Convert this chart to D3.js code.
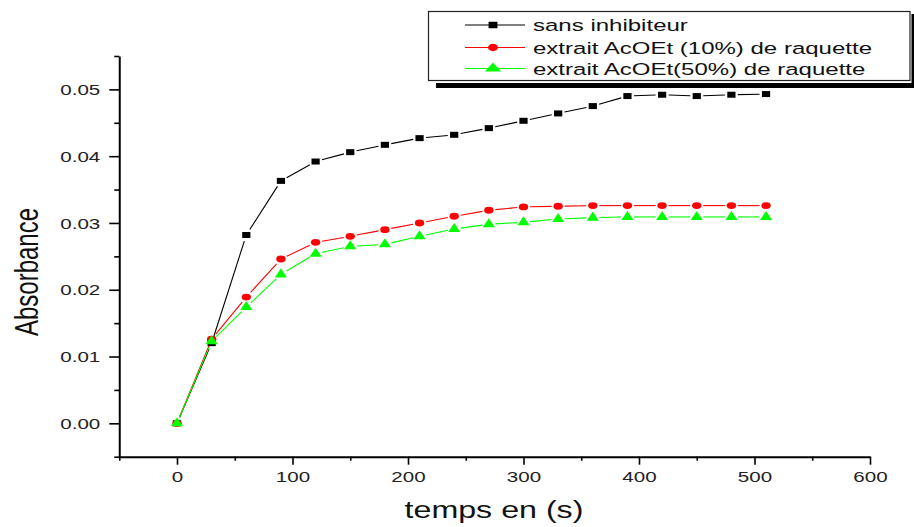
<!DOCTYPE html>
<html>
<head>
<meta charset="utf-8">
<script src="https://cdn.jsdelivr.net/npm/d3@7"></script>
<style>
  body { margin: 0; background: #fff; }
  svg { display: block; font-family: "Liberation Sans", Arial, sans-serif; }
</style>
</head>
<body>
<div id="chart"></div>
<script>
// temps (s) et absorbance
var times = [0, 30, 60, 90, 120, 150, 180, 210, 240, 270, 300, 330, 360, 390, 420, 450, 480, 510];
var sansInhibiteur = [0, 0.0120, 0.0282, 0.0363, 0.0392, 0.0406, 0.0417, 0.0427, 0.0432, 0.0442, 0.0453, 0.0464, 0.0475, 0.0490, 0.0492, 0.0490, 0.0492, 0.0493];
var acoet10 = [0, 0.0126, 0.0189, 0.0246, 0.0271, 0.0280, 0.0290, 0.0300, 0.0310, 0.0319, 0.0324, 0.0325, 0.0326, 0.0326, 0.0326, 0.0326, 0.0326, 0.0326];
var acoet50 = [0, 0.0123, 0.0174, 0.0223, 0.0254, 0.0265, 0.0268, 0.0280, 0.0291, 0.0298, 0.0301, 0.0306, 0.0308, 0.0309, 0.0309, 0.0309, 0.0309, 0.0309];
var seriesNames = ["sans inhibiteur", "extrait AcOEt (10%) de raquette", "extrait AcOEt(50%) de raquette"];
var seriesColors = ["#000000", "#ff0000", "#00ff00"];
var seriesSymbols = [d3.symbolSquare, d3.symbolCircle, d3.symbolTriangle];
var xTicks = [0, 100, 200, 300, 400, 500, 600];
var xMinor = [-50, 50, 150, 250, 350, 450, 550];
var yTicks = [0, 0.01, 0.02, 0.03, 0.04, 0.05];
var yMinor = [-0.005, 0.005, 0.015, 0.025, 0.035, 0.045, 0.055];

var W = 914, H = 527;
var SX = 1.37; // la figure d'origine est etiree horizontalement

var svg = d3.select("#chart").append("svg").attr("width", W).attr("height", H);
svg.append("rect").attr("width", W).attr("height", H).attr("fill", "#fff");

var x = d3.scaleLinear().domain([-50, 600]).range([119.25, 870]);
var y = d3.scaleLinear().domain([-0.005, 0.055]).range([456.7, 56]);

// axes
var yAxis = svg.append("g").attr("transform", "translate(" + x(-50) + ",0)")
  .call(d3.axisLeft(y).tickValues(yTicks).tickFormat(d3.format(".2f")).tickSize(10).tickSizeOuter(0).tickPadding(9));
svg.append("g").attr("transform", "translate(" + x(-50) + ",0)")
  .call(d3.axisLeft(y).tickValues(yMinor).tickFormat("").tickSize(5).tickSizeOuter(0))
  .select(".domain").remove();

var xAxis = svg.append("g").attr("transform", "translate(0," + y(-0.005) + ")")
  .call(d3.axisBottom(x).tickValues(xTicks).tickFormat(d3.format("d")).tickSize(8).tickSizeOuter(0).tickPadding(7));
svg.append("g").attr("transform", "translate(0," + y(-0.005) + ")")
  .call(d3.axisBottom(x).tickValues(xMinor).tickFormat("").tickSize(4).tickSizeOuter(0))
  .select(".domain").remove();

svg.selectAll(".domain").attr("stroke", "#000").attr("stroke-width", 2);
svg.selectAll(".tick line").attr("stroke", "#000").attr("stroke-width", 1.6);

yAxis.selectAll(".tick text")
  .attr("x", null).attr("dy", "0.35em")
  .attr("transform", "translate(-19,0) scale(" + SX + ",1)")
  .style("font-size", "15px").attr("fill", "#222");
xAxis.selectAll(".tick text")
  .attr("y", null).attr("dy", null)
  .attr("transform", "translate(0,25.5) scale(" + SX + ",1)")
  .style("font-size", "15px").attr("fill", "#222");

// titres des axes
svg.append("text")
  .attr("transform", "translate(" + 494 + ",518) scale(" + SX + ",1)")
  .attr("text-anchor", "middle").style("font-size", "23.5px").attr("fill", "#111")
  .text("temps en (s)");
svg.append("text")
  .attr("transform", "translate(38,272) scale(" + SX + ",1) rotate(-90)")
  .attr("text-anchor", "middle").style("font-size", "24px").attr("fill", "#111")
  .text("Absorbance");

// courbes : segments avec un espace autour des symboles
var allSeries = [sansInhibiteur, acoet10, acoet50];
var gap = 6.5;
allSeries.forEach(function(vals, si) {
  var pts = times.map(function(t, i) { return [x(t), y(vals[i])]; });
  var segs = [];
  for (var i = 0; i < pts.length - 1; i++) {
    var p = pts[i], q = pts[i + 1];
    var dx = q[0] - p[0], dy = q[1] - p[1], len = Math.sqrt(dx * dx + dy * dy);
    if (len <= 2 * gap) continue;
    var ux = dx / len, uy = dy / len;
    segs.push([p[0] + ux * gap, p[1] + uy * gap, q[0] - ux * gap, q[1] - uy * gap]);
  }
  svg.append("g").selectAll("line").data(segs).enter().append("line")
    .attr("x1", function(d) { return d[0]; }).attr("y1", function(d) { return d[1]; })
    .attr("x2", function(d) { return d[2]; }).attr("y2", function(d) { return d[3]; })
    .attr("stroke", seriesColors[si]).attr("stroke-width", 1.1);
});
allSeries.forEach(function(vals, si) {
  var sym = d3.symbol().type(seriesSymbols[si]).size(si === 2 ? 34 : (si === 1 ? 37 : 36));
  var sy = si === 2 ? 1.18 : 1;
  svg.append("g").selectAll("path").data(times).enter().append("path")
    .attr("d", sym)
    .attr("transform", function(t, i) { return "translate(" + x(t) + "," + y(vals[i]) + ") scale(" + SX + "," + sy + ")"; })
    .attr("fill", seriesColors[si]);
});

// legende
var lg = svg.append("g");
lg.append("rect").attr("x", 436).attr("y", 83).attr("width", 480).attr("height", 5).attr("fill", "#000");
lg.append("rect").attr("x", 911.5).attr("y", 14).attr("width", 4).attr("height", 74).attr("fill", "#000");
lg.append("rect").attr("x", 428.5).attr("y", 11.5).attr("width", 481.5).attr("height", 69)
  .attr("fill", "#fff").attr("stroke", "#222").attr("stroke-width", 1.2);
var rowsY = [25, 47.5, 68.5];
seriesNames.forEach(function(name, i) {
  var row = lg.append("g").attr("transform", "translate(0," + rowsY[i] + ")");
  row.append("line").attr("x1", 465).attr("x2", 525).attr("y1", 0).attr("y2", 0)
    .attr("stroke", seriesColors[i]).attr("stroke-width", 1);
  row.append("path")
    .attr("d", d3.symbol().type(seriesSymbols[i]).size(i === 2 ? 44 : 42))
    .attr("transform", "translate(493,0) scale(" + (i === 2 ? 1.6 : SX) + "," + (i === 2 ? 1.05 : 1) + ")")
    .attr("fill", seriesColors[i]);
  row.append("text")
    .attr("transform", "translate(533,6) scale(1.43,1)")
    .style("font-size", "16.8px").attr("fill", "#111")
    .text(name);
});
</script>
</body>
</html>
